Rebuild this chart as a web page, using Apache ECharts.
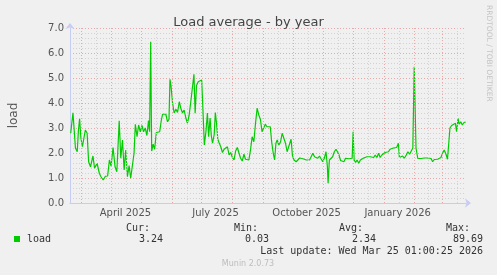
<!DOCTYPE html>
<html><head><meta charset="utf-8">
<script src="https://cdn.jsdelivr.net/npm/echarts@6/dist/echarts.min.js"></script>
<style>html,body{margin:0;padding:0;background:#f0f0f0}#c{width:497px;height:275px}</style>
</head><body><div id="c"></div>
<script>
// Window start (400 days before last update) — day offsets below are counted from this date
const startDate = [2025, 1, 18]; // 18 Feb 2025 (month 0-based)
const dayCount = 400;

// Day offsets
const days = [0.7,3,5.5,7.3,8.5,9.7,11,12.5,15.5,17.3,18.8,20.7,23.2,24.8,27.3,29.7,31.3,33.5,35.8,38,39.8,41.5,43.5,45.5,47.3,49.7,51.3,53,54.7,56.3,58,59.7,61.3,63,64.7,66,67.7,69.3,71,72.7,74.3,76,77.7,79.3,80.4,81.5,82.5,84,85.5,87.2,89,90.6,92.2,93.5,95.3,96.8,98.5,100,101,102,103.6,105.2,107,108.6,110.4,112,113.7,115.3,117,118.6,120.3,122,123.7,125.2,126.4,127.8,129.5,131.2,133,134,135.7,137.3,138.8,140,141.5,142.7,144,145.7,146.8,148,149.3,150.7,152.3,154,155.7,157.3,159,160.7,162.3,164,165.7,167.3,169,170.7,172.3,174,175.7,177.3,179,180.7,182.3,184,185.7,187.3,189,190.7,192.3,194,195.7,197.3,199,200.7,202.3,203.7,205.3,206.7,208,209.3,211,212.7,214.3,216,217.7,219.3,221,223.3,224.7,226.3,228.5,230.3,232,233.7,235.3,237,238.7,240.3,242,243.7,245.3,247,248.7,250.3,252,253.7,255.3,257,258.6,260,260.7,262,263.7,265.3,267,268.7,270,271.5,273.3,275,276.7,278.3,280,281.7,283.3,285,286,287,288.5,290,291.7,293.3,295,296.7,298.3,300,301.7,303.3,305,306.7,308.3,310,311.7,313.3,315,316.7,318.3,320,321.7,323.3,325,326.7,328.3,330,331.7,332.7,334.3,336,337.7,339.7,341.3,343,344.7,346.3,347.7,349.5,351.3,353,354.7,356.3,358,359.7,361.3,363,364.7,366.3,368,369.7,371.3,373,374.7,376.3,378,379.7,381.3,383,383.8,385.5,387.3,389.3,390.5,392,393,394.7,396.3,398,399.7];
const load = [2.79,3.61,2.2,2.05,2.9,3.37,2.6,2.25,2.92,2.79,1.65,1.45,1.88,1.39,1.59,1.18,1.05,0.92,1.07,1.08,1.72,1.48,2.22,1.45,1.25,3.29,1.79,2.52,1.32,2.12,1.05,1.5,0.99,0.92,1.99,3.15,2.65,3.12,2.85,3.1,2.85,3.0,2.7,3.3,2.85,6.45,2.08,2.35,2.15,2.82,2.8,2.85,3.3,3.55,3.6,3.55,3.25,3.35,4.95,4.7,4.0,3.6,3.75,3.62,4.05,3.78,3.6,3.72,3.4,3.2,3.5,4.05,4.12,5.15,3.59,4.7,4.85,4.79,4.92,4.0,2.32,2.85,3.6,2.65,3.4,2.7,2.39,2.75,3.62,3.19,2.55,2.4,2.25,2.02,2.15,2.08,2.25,1.92,2.02,1.82,1.72,2.08,2.22,2.22,1.79,1.68,1.95,1.75,1.68,1.72,2.12,2.65,2.45,3.15,3.79,3.52,3.35,2.85,2.88,3.15,3.05,2.99,3.05,2.45,1.99,1.72,2.39,2.52,2.32,2.45,2.79,2.85,2.39,2.05,1.98,2.55,1.9,1.72,1.65,1.72,1.8,1.72,1.77,1.72,1.72,1.74,1.72,1.79,1.99,1.85,1.92,1.79,1.88,1.76,1.65,1.8,2.05,1.45,0.79,1.72,1.79,1.85,2.05,2.15,2.12,1.95,1.7,1.72,1.65,1.79,1.72,1.77,1.72,1.79,2.85,1.72,1.62,1.72,1.59,1.72,1.79,1.8,1.78,1.85,1.85,1.85,1.9,1.82,1.92,1.82,1.99,1.82,1.92,1.85,2.02,2.02,2.05,2.15,2.15,2.2,2.2,2.22,2.39,1.82,1.85,1.88,1.79,1.92,2.05,1.95,1.99,2.2,5.45,2.2,1.78,1.79,1.78,1.79,1.8,1.83,1.8,1.75,1.78,1.65,1.74,1.75,1.75,1.78,1.82,1.99,2.12,1.96,1.75,1.8,3.0,3.1,3.02,3.19,2.85,3.39,3.15,3.25,3.12,3.22,3.24];

// Tick labels (placed at mid-month, as rrdtool does)
const tickLabels = ["April 2025", "July 2025", "October 2025", "January 2026"];
const tickMonths = [[2025,3],[2025,6],[2025,9],[2026,0]];
const yTicks = [0,1,2,3,4,5,6,7];

// Legend texts
const seriesName = "load";
const statNames = ["Cur:", "Min:", "Avg:", "Max:"];
const statValues = ["3.24", "0.03", "2.34", "89.69"];
const lastUpdate = "Last update: Wed Mar 25 01:00:25 2026";
const footer = "Munin 2.0.73";
const title = "Load average - by year";
const sideText = "RRDTOOL / TOBI OETIKER";

const t0 = Date.UTC(startDate[0], startDate[1], startDate[2]);
const dayOf = (y, m, d) => (Date.UTC(y, m, d) - t0) / 86400000;

const pts = days.map((d, i) => [d, load[i]]);

// month boundaries (major grid) and mid-month minor grid
const major = [], minor = [];
for (let y = 2025, m = 1; y < 2026 || m < 4; ) {
  const a = dayOf(y, m, 1);
  let ny = y, nm = m + 1; if (nm > 11) { nm = 0; ny++; }
  const b = dayOf(ny, nm, 1);
  if (a > 0 && a < dayCount) major.push(a);
  const mid = (a + b) / 2;
  if (mid > 0 && mid < dayCount) minor.push(mid);
  y = ny; m = nm;
}
const labelPos = tickMonths.map(([y, m]) => dayOf(y, m, 15));

const MAJ = '#e9a9a9', MIN = '#d2d2d2', AX = '#c7cdf2';
const markData = [];
minor.forEach(v => markData.push({ xAxis: v, lineStyle: { color: MIN, type: [1, 2], width: 1 } }));
major.forEach(v => markData.push({ xAxis: v, lineStyle: { color: MAJ, type: [1, 2], width: 1 } }));

const chart = echarts.init(document.getElementById('c'), null, { renderer: 'canvas' });
const mono = '"DejaVu Sans Mono", monospace';
const txt = (x, y, s, align, opts) => Object.assign({
  type: 'text', x, y, style: { text: s, fill: '#333', font: '10px ' + mono, textAlign: align, textVerticalAlign: 'middle' }
}, opts || {});

chart.setOption({
  backgroundColor: '#f0f0f0',
  animation: false,
  title: { text: title, left: 'center', top: 11, textStyle: { fontFamily: 'DejaVu Sans', fontSize: 13, fontWeight: 'normal', color: '#444' } },
  grid: { left: 66, top: 28, width: 400, height: 175, containLabel: false },
  xAxis: {
    type: 'value', min: 0, max: dayCount,
    splitLine: { show: false },
    axisTick: { show: false },
    axisLine: { show: true, lineStyle: { color: AX, width: 1 }, symbol: ['none', 'arrow'], symbolSize: [7, 6], symbolOffset: [0, 5] },
    axisLabel: {
      customValues: labelPos,
      formatter: v => { const i = labelPos.findIndex(p => Math.abs(p - v) < 0.01); return i >= 0 ? tickLabels[i] : ''; },
      color: '#555', fontFamily: 'DejaVu Sans', fontSize: 10, margin: 5
    }
  },
  yAxis: {
    type: 'value', min: yTicks[0], max: yTicks[yTicks.length - 1], interval: 1,
    name: seriesName, nameLocation: 'middle', nameGap: 50, nameRotate: 90,
    nameTextStyle: { color: '#555', fontFamily: 'DejaVu Sans', fontSize: 12 },
    axisLine: { show: true, lineStyle: { color: AX, width: 1 }, symbol: ['none', 'arrow'], symbolSize: [7, 6], symbolOffset: [0, 5] },
    axisTick: { show: false },
    axisLabel: { formatter: v => v.toFixed(1), color: '#555', fontFamily: 'DejaVu Sans', fontSize: 10, margin: 6 },
    splitLine: { show: true, lineStyle: { color: MAJ, type: [1, 2], width: 1 } },
    minorTick: { show: false, splitNumber: 5 },
    minorSplitLine: { show: true, lineStyle: { color: MIN, type: [1, 2], width: 1 } }
  },
  series: [
    { type: 'line', data: [], silent: true, z: 1,
      markLine: { silent: true, symbol: 'none', label: { show: false }, animation: false, data: markData } },
    { type: 'line', name: seriesName, data: pts, showSymbol: false, z: 3,
      lineStyle: { color: '#00cc00', width: 1.2 }, itemStyle: { color: '#00cc00' } }
  ],
  graphic: [
    { type: 'text', x: 489, y: 5, rotation: -Math.PI / 2,
      style: { text: sideText, fill: '#c4c4c4', font: '7.5px "DejaVu Sans"', textAlign: 'left', textVerticalAlign: 'middle' } },
    { type: 'rect', shape: { x: 14, y: 236, width: 6, height: 6 }, style: { fill: '#00cc00' } },
    txt(27, 239.5, seriesName, 'left'),
    txt(150, 228, statNames[0], 'right'), txt(258, 228, statNames[1], 'right'),
    txt(363, 228, statNames[2], 'right'), txt(470, 228, statNames[3], 'right'),
    txt(163, 239.5, statValues[0], 'right'), txt(269, 239.5, statValues[1], 'right'),
    txt(376, 239.5, statValues[2], 'right'), txt(483, 239.5, statValues[3], 'right'),
    txt(483, 251, lastUpdate, 'right'),
    { type: 'text', x: 248, y: 264, style: { text: footer, fill: '#bdbdbd', font: '8px "DejaVu Sans"', textAlign: 'center', textVerticalAlign: 'middle' } }
  ]
});
</script></body></html>
